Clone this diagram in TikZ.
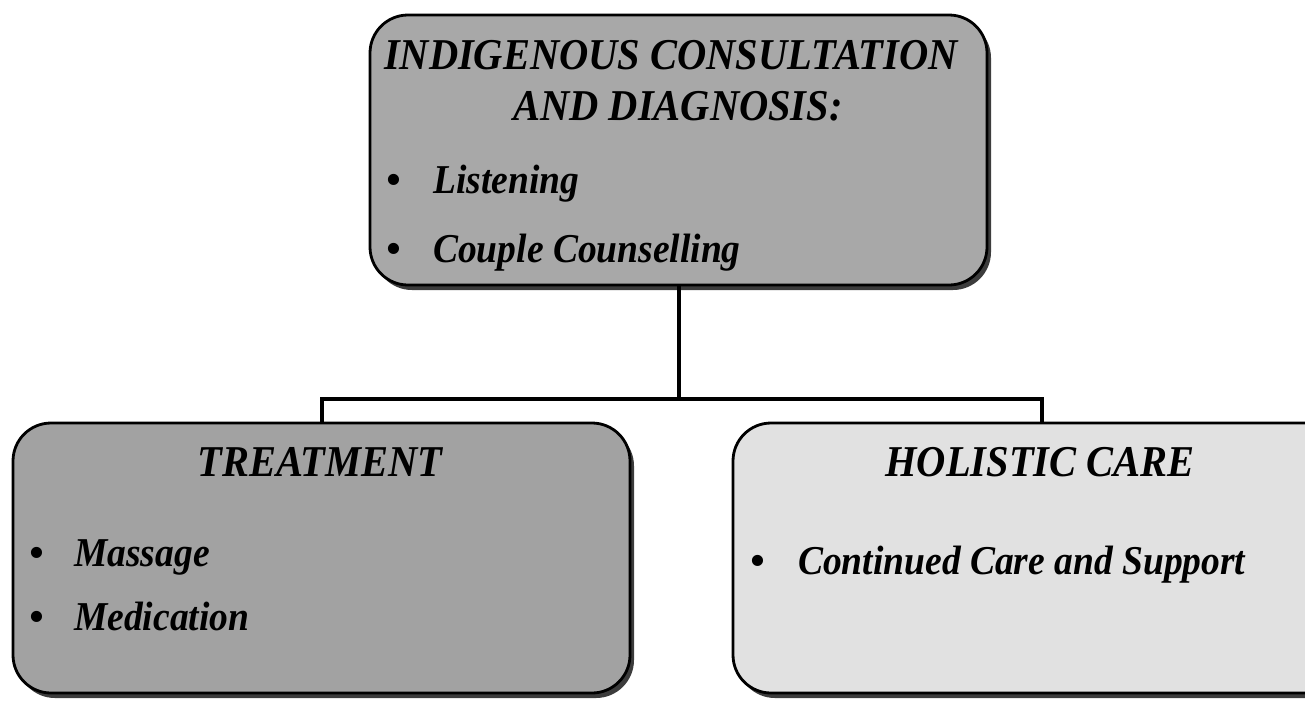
\documentclass[tikz,border=0pt]{standalone}
\usepackage{fontspec}
\setmainfont{Liberation Serif}
\usetikzlibrary{shadows}
\definecolor{boxgrey}{RGB}{168,168,168}
\definecolor{boxgreyB}{RGB}{162,162,162}
\definecolor{boxlight}{RGB}{225,225,225}
\definecolor{shadowgrey}{RGB}{60,60,60}
\newcommand{\bulletline}[2]{\makebox[#1][l]{\textbullet}\scalebox{0.915}[1]{#2}}
\newcommand{\titletext}[1]{\scalebox{0.92}[1]{#1}}
\begin{document}
\begin{tikzpicture}[x=1pt,y=-1pt,
  card/.style={draw=black, line width=2.8pt, rounded corners=38pt,
    minimum width=617pt, minimum height=270pt, inner sep=0pt,
    drop shadow={shadow xshift=4pt, shadow yshift=-5pt, fill=shadowgrey, opacity=1}},
  ttl/.style={font=\fontsize{44}{50}\selectfont\bfseries\itshape, inner sep=0pt},
  itm/.style={font=\fontsize{41}{48}\selectfont\bfseries\itshape, inner sep=0pt, anchor=base west},
  link/.style={line width=4pt}]
\useasboundingbox (0,0) rectangle (1305,702);
\clip (0,0) rectangle (1305,702);
\node[card, fill=boxgrey] (diag) at (678.5,150) {};
\node[card, fill=boxgreyB] (treat) at (321.5,558) {};
\node[card, fill=boxlight] (holistic) at (1041.5,558) {};
\coordinate (junction) at (678.5,399);
\draw[link] (diag.south) -- (junction);
\draw[link] (treat.north) |- (junction) -| (holistic.north);
\node[ttl, anchor=base] (t1) at (671,69) {\titletext{INDIGENOUS CONSULTATION}};
\node[ttl, anchor=base] (t2) at (678,120) {\titletext{AND DIAGNOSIS:}};
\node[itm] (t3) at (386,193) {\bulletline{47pt}{Listening}};
\node[itm] (t4) at (386,262) {\bulletline{47pt}{Couple Counselling}};
\node[ttl, anchor=base] (t5) at (320,476) {\titletext{TREATMENT}};
\node[itm] (t6) at (29,566) {\bulletline{45pt}{Massage}};
\node[itm] (t7) at (29,630) {\bulletline{45pt}{Medication}};
\node[ttl, anchor=base] (t8) at (1040,476) {\titletext{HOLISTIC CARE}};
\node[itm] (t9) at (750,574) {\bulletline{48pt}{Continued Care and Support}};
\end{tikzpicture}
\end{document}
